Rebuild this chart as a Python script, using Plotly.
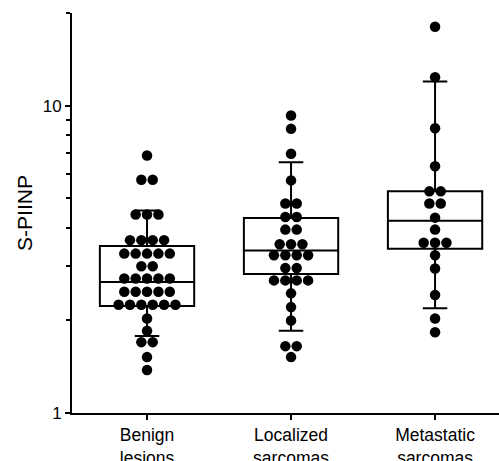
import plotly.graph_objects as go
from collections import Counter

# ---- data ----
categories = ["Benign<br>lesions", "Localized<br>sarcomas", "Metastatic<br>sarcomas"]

benign = [6.88, 5.74, 5.74, 4.42, 4.42, 4.42,
          3.65, 3.65, 3.65, 3.65,
          3.30, 3.30, 3.30, 3.30, 3.30,
          3.00, 3.00,
          2.74, 2.74, 2.74, 2.74, 2.74,
          2.48, 2.48, 2.48, 2.48, 2.48,
          2.25, 2.25, 2.25, 2.25, 2.25, 2.25,
          2.03, 1.85, 1.70, 1.70, 1.52, 1.38]

localized = [9.28, 8.40, 6.97, 5.71, 4.80, 4.80, 4.34, 4.34, 3.95, 3.95,
             3.54, 3.54, 3.54,
             3.26, 3.26, 3.26, 3.26,
             2.96, 2.96,
             2.70, 2.70, 2.70, 2.70,
             2.45, 2.21, 2.00, 1.65, 1.65, 1.52]

metastatic = [18.05, 12.36, 8.44, 6.35, 5.26, 5.26, 4.80, 4.80, 4.32, 3.95,
              3.58, 3.58, 3.58, 3.26, 2.95, 2.42, 2.03, 1.83]

groups = [benign, localized, metastatic]

# box statistics per group
q1 = [2.23, 2.83, 3.42]
median = [2.67, 3.38, 4.22]
q3 = [3.49, 4.31, 5.26]
lower = [1.78, 1.85, 2.19]
upper = [4.56, 6.54, 11.97]

y_tickvals = [1, 10]
y_minor = [2, 3, 4, 5, 6, 7, 8, 9, 20]

FONT = "Liberation Sans"
SPACING = 0.079  # horizontal dot spacing in category units

fig = go.Figure()

for i in range(3):
    fig.add_trace(go.Box(
        x=[i], q1=[q1[i]], median=[median[i]], q3=[q3[i]],
        lowerfence=[lower[i]], upperfence=[upper[i]],
        width=0.655, whiskerwidth=0.26,
        line=dict(color="black", width=2),
        fillcolor="rgba(0,0,0,0)",
        boxpoints=False, showlegend=False, hoverinfo="skip",
    ))

# beeswarm rows: equal values sit side by side, centred on the category
for i, vals in enumerate(groups):
    counts = Counter(vals)
    seen = Counter()
    xs, ys = [], []
    for v in vals:
        n = counts[v]
        k = seen[v]
        seen[v] += 1
        xs.append(i + (k - (n - 1) / 2) * SPACING)
        ys.append(v)
    fig.add_trace(go.Scatter(
        x=xs, y=ys, mode="markers",
        marker=dict(color="black", size=10.5, line=dict(width=0)),
        showlegend=False, hoverinfo="skip",
    ))

fig.update_layout(
    width=499, height=461,
    margin=dict(l=72, r=0, t=13, b=48),
    paper_bgcolor="white", plot_bgcolor="white",
    boxmode="overlay",
    font=dict(family=FONT, color="black"),
)

fig.update_xaxes(
    automargin=False,
    range=[-0.521, 2.444],
    tickmode="array", tickvals=[0, 1, 2], ticktext=categories,
    ticks="outside", ticklen=5, tickwidth=2, tickcolor="black",
    tickfont=dict(family=FONT, size=17.5, color="black"),
    showline=True, linecolor="black", linewidth=2,
    showgrid=False, zeroline=False,
)

fig.update_yaxes(
    automargin=False,
    type="log", range=[0, 1.3011],
    tickmode="array", tickvals=y_tickvals, ticktext=["1", "10"],
    ticks="outside", ticklen=5, tickwidth=2, tickcolor="black",
    tickfont=dict(family=FONT, size=17, color="black"),
    minor=dict(tickvals=y_minor, ticks="outside", ticklen=4, tickwidth=2,
               tickcolor="black", showgrid=False),
    showline=True, linecolor="black", linewidth=2,
    showgrid=False, zeroline=False,
    title=dict(text="S-PIINP", font=dict(family=FONT, size=21, color="black"),
               standoff=4),
)

# remove the default page margin so the figure sits at the window's corner
fig.write_html(
    "out.html",
    config={"displayModeBar": False, "staticPlot": True},
    post_script="document.body.style.margin='0';document.body.style.overflow='hidden';",
)
